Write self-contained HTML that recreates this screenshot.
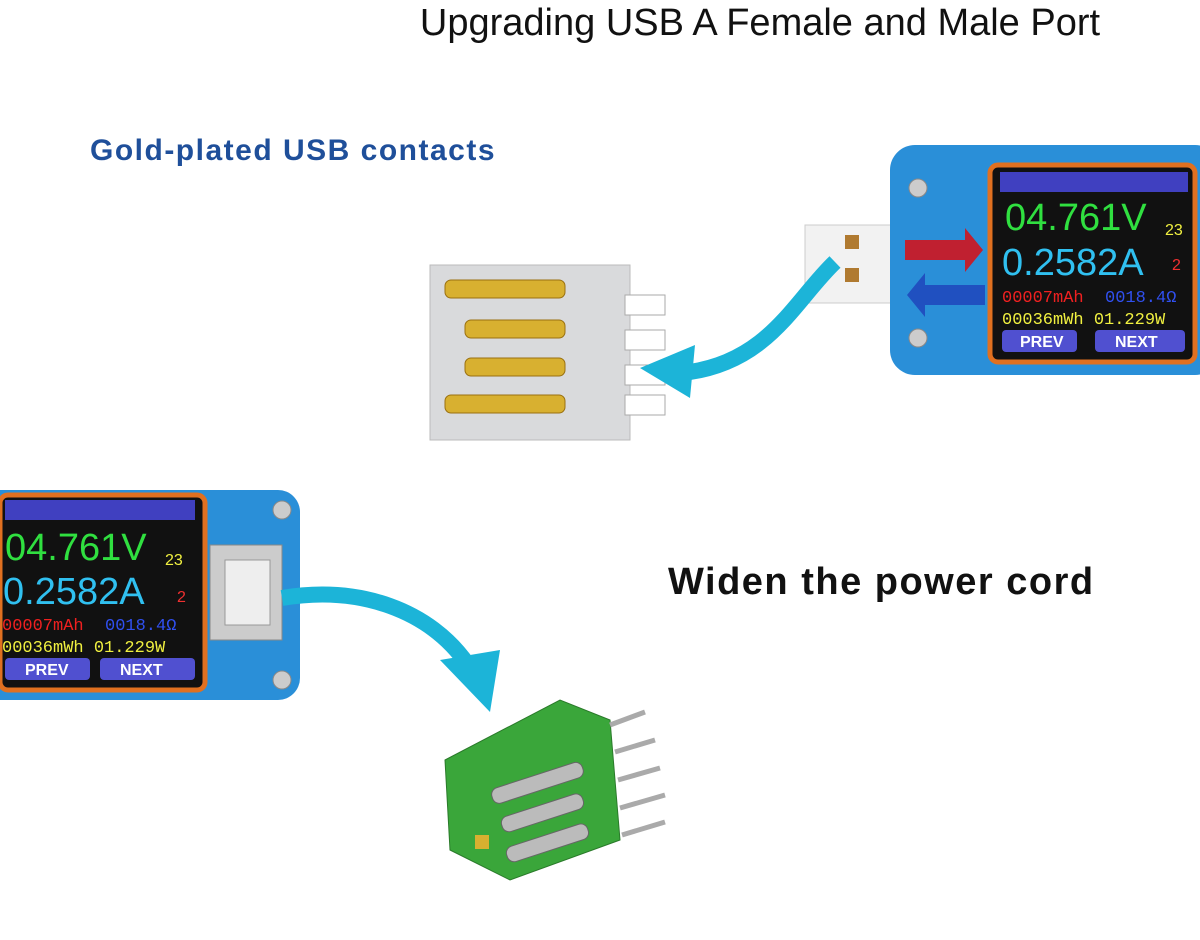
<!DOCTYPE html>
<html><head><meta charset="utf-8"><style>
body{margin:0;background:#fff;width:1200px;height:935px;overflow:hidden;font-family:"Liberation Sans",sans-serif}
</style></head><body>
<svg width="1200" height="935" viewBox="0 0 1200 935" xmlns="http://www.w3.org/2000/svg" font-family="Liberation Sans, sans-serif">
<text x="760" y="35" text-anchor="middle" font-size="38" fill="#111">Upgrading USB A Female and Male Port</text>
<text x="90" y="160" font-size="30" font-weight="bold" letter-spacing="1.5" fill="#1f4f9a">Gold-plated USB contacts</text>
<text x="668" y="594" font-size="38" font-weight="bold" letter-spacing="1.5" fill="#111">Widen the power cord</text>

<!-- top-right device -->
<rect x="805" y="225" width="100" height="78" fill="#f2f2f2" stroke="#ccc"/>
<rect x="845" y="235" width="14" height="14" fill="#b07a30"/>
<rect x="845" y="268" width="14" height="14" fill="#b07a30"/>
<rect x="890" y="145" width="330" height="230" rx="25" fill="#2a8fd8"/>
<circle cx="918" cy="188" r="9" fill="#ccc" stroke="#888"/>
<circle cx="918" cy="338" r="9" fill="#ccc" stroke="#888"/>
<path d="M905 240 h60 l0 -12 l18 22 l-18 22 v-12 h-60z" fill="#c02030"/>
<path d="M985 285 h-60 l0 -12 l-18 22 l18 22 v-12 h60z" fill="#2050c0"/>
<rect x="990" y="165" width="205" height="197" rx="8" fill="#111" stroke="#e07020" stroke-width="5"/>
<rect x="1000" y="172" width="188" height="20" fill="#4040c0"/>
<text x="1005" y="230" font-size="38" fill="#30e040">04.761V</text>
<text x="1165" y="235" font-size="16" fill="#f0f040">23</text>
<text x="1002" y="275" font-size="38" fill="#30c0f0">0.2582A</text>
<text x="1172" y="270" font-size="16" fill="#f03030">2</text>
<text x="1002" y="302" font-size="17" fill="#f02020" font-family="Liberation Mono">00007mAh</text>
<text x="1105" y="302" font-size="17" fill="#3050f0" font-family="Liberation Mono">0018.4Ω</text>
<text x="1002" y="324" font-size="17" fill="#f0f040" font-family="Liberation Mono">00036mWh 01.229W</text>
<rect x="1002" y="330" width="75" height="22" rx="4" fill="#5050d0"/>
<rect x="1095" y="330" width="90" height="22" rx="4" fill="#5050d0"/>
<text x="1020" y="347" font-size="16" font-weight="bold" fill="#fff">PREV</text>
<text x="1115" y="347" font-size="16" font-weight="bold" fill="#fff">NEXT</text>

<!-- gray connector -->
<rect x="430" y="265" width="200" height="175" fill="#d9dadc" stroke="#bbb"/>
<rect x="625" y="295" width="40" height="20" fill="#fff" stroke="#aaa"/>
<rect x="625" y="330" width="40" height="20" fill="#fff" stroke="#aaa"/>
<rect x="625" y="365" width="40" height="20" fill="#fff" stroke="#aaa"/>
<rect x="625" y="395" width="40" height="20" fill="#fff" stroke="#aaa"/>
<g fill="#d8b030" stroke="#9a7010">
<rect x="445" y="280" width="120" height="18" rx="6"/>
<rect x="465" y="320" width="100" height="18" rx="6"/>
<rect x="465" y="358" width="100" height="18" rx="6"/>
<rect x="445" y="395" width="120" height="18" rx="6"/>
</g>
<!-- arrow top -->
<path d="M835 262 C795 300 770 360 690 372" fill="none" stroke="#1cb4d8" stroke-width="16"/>
<path d="M640 368 L695 345 L690 398 Z" fill="#1cb4d8"/>

<!-- bottom-left device -->
<rect x="-30" y="490" width="330" height="210" rx="22" fill="#2a8fd8"/>
<circle cx="282" cy="510" r="9" fill="#ccc" stroke="#888"/>
<circle cx="282" cy="680" r="9" fill="#ccc" stroke="#888"/>
<rect x="210" y="545" width="72" height="95" fill="#ccc" stroke="#888"/>
<rect x="225" y="560" width="45" height="65" fill="#eee" stroke="#999"/>
<rect x="0" y="495" width="205" height="195" rx="8" fill="#111" stroke="#e07020" stroke-width="5"/>
<rect x="5" y="500" width="190" height="20" fill="#4040c0"/>
<text x="5" y="560" font-size="38" fill="#30e040">04.761V</text>
<text x="165" y="565" font-size="16" fill="#f0f040">23</text>
<text x="3" y="604" font-size="38" fill="#30c0f0">0.2582A</text>
<text x="177" y="602" font-size="16" fill="#f03030">2</text>
<text x="2" y="630" font-size="17" fill="#f02020" font-family="Liberation Mono">00007mAh</text>
<text x="105" y="630" font-size="17" fill="#3050f0" font-family="Liberation Mono">0018.4Ω</text>
<text x="2" y="652" font-size="17" fill="#f0f040" font-family="Liberation Mono">00036mWh 01.229W</text>
<rect x="5" y="658" width="85" height="22" rx="4" fill="#5050d0"/>
<rect x="100" y="658" width="95" height="22" rx="4" fill="#5050d0"/>
<text x="25" y="675" font-size="16" font-weight="bold" fill="#fff">PREV</text>
<text x="120" y="675" font-size="16" font-weight="bold" fill="#fff">NEXT</text>
<!-- arrow bottom -->
<path d="M282 598 C360 585 430 610 468 665" fill="none" stroke="#1cb4d8" stroke-width="16"/>
<path d="M440 660 L500 650 L490 712 Z" fill="#1cb4d8"/>

<!-- green connector -->
<polygon points="445,760 560,700 610,720 620,840 510,880 450,850" fill="#3aa63a" stroke="#2a7a2a"/>
<g stroke="#aaa" stroke-width="5">
<line x1="610" y1="725" x2="645" y2="712"/>
<line x1="615" y1="752" x2="655" y2="740"/>
<line x1="618" y1="780" x2="660" y2="768"/>
<line x1="620" y1="808" x2="665" y2="795"/>
<line x1="622" y1="835" x2="665" y2="822"/>
</g>
<g fill="#bbb" stroke="#666">
<rect x="490" y="775" width="95" height="16" rx="7" transform="rotate(-18 537 783)"/>
<rect x="500" y="805" width="85" height="16" rx="7" transform="rotate(-18 542 813)"/>
<rect x="505" y="835" width="85" height="16" rx="7" transform="rotate(-18 547 843)"/>
</g>
<rect x="475" y="835" width="14" height="14" fill="#d8b030"/>
</svg>
</body></html>
